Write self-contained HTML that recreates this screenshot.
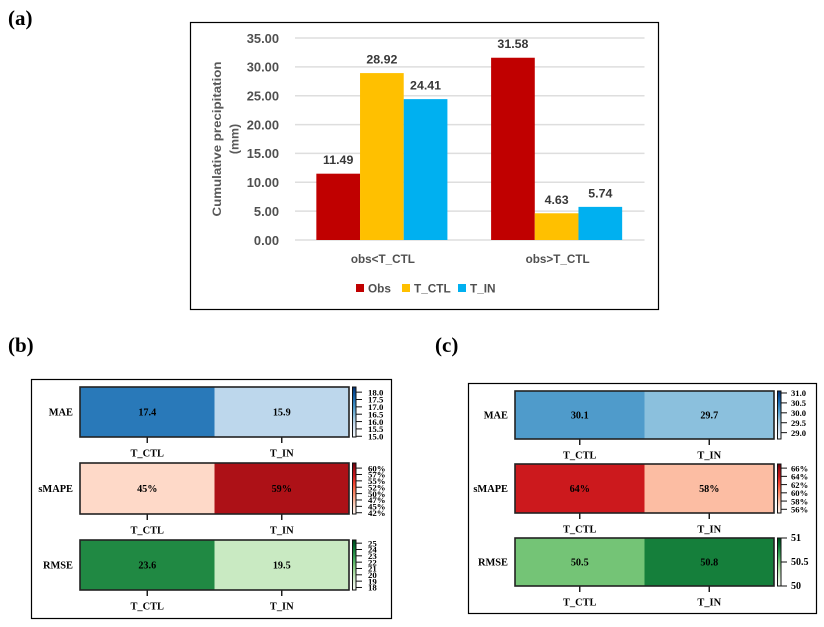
<!DOCTYPE html>
<html lang="en">
<head>
<meta charset="utf-8">
<title>Cumulative precipitation and error metrics</title>
<style>
html,body{margin:0;padding:0;background:#fff}
svg{display:block;filter:blur(0.3px)}
.bar-text{font-family:"Liberation Sans",sans-serif;font-weight:bold}
.heat-text{font-family:"Liberation Serif",serif;font-weight:bold;fill:#000}
</style>
</head>
<body>
<svg id="fig" xmlns="http://www.w3.org/2000/svg" width="824" height="627" viewBox="0 0 824 627">
  <defs id="defs"></defs>
  <text x="8" y="25" font-family="Liberation Serif" font-weight="bold" font-size="21">(a)</text>
  <text x="8" y="352" font-family="Liberation Serif" font-weight="bold" font-size="21">(b)</text>
  <text x="435" y="352" font-family="Liberation Serif" font-weight="bold" font-size="21">(c)</text>
  <rect x="190.5" y="22.5" width="468" height="287" fill="#fff" stroke="#000" stroke-width="1.2"/>
  <rect x="31.5" y="379.5" width="360" height="239" fill="#fff" stroke="#000" stroke-width="1.2"/>
  <rect x="468.5" y="383.5" width="348" height="230" fill="#fff" stroke="#000" stroke-width="1.2"/>
  <g id="bar-chart"></g>
  <g id="panel-b"></g>
  <g id="panel-c"></g>
</svg>
<script>
// ---- Bar chart data ----
const barCategories = ['obs<T_CTL', 'obs>T_CTL'];
const seriesNames = ['Obs', 'T_CTL', 'T_IN'];
const obsValues = [11.49, 31.58];
const ctlValues = [28.92, 4.63];
const inValues = [24.41, 5.74];
const barYTicks = [0, 5, 10, 15, 20, 25, 30, 35];

// ---- Heatmap data ----
const heatColumns = ['T_CTL', 'T_IN'];
const metricNames = ['MAE', 'sMAPE', 'RMSE'];

const bMaeValues = [17.4, 15.9];
const bSmapeValues = [45, 59];
const bRmseValues = [23.6, 19.5];
const bMaeDomain = [14.95, 18.35];
const bSmapeDomain = [42, 62];
const bRmseDomain = [17.6, 25.5];
const bMaeTicks = [15, 15.5, 16, 16.5, 17, 17.5, 18];
const bMaeTickLabels = ['15.0', '15.5', '16.0', '16.5', '17.0', '17.5', '18.0'];
const bSmapeTicks = [42.5, 45, 47.5, 50, 52.5, 55, 57.5, 60];
const bSmapeTickLabels = ['42%', '45%', '47%', '50%', '52%', '55%', '57%', '60%'];
const bRmseTicks = [18, 19, 20, 21, 22, 23, 24, 25];
const bRmseTickLabels = ['18', '19', '20', '21', '22', '23', '24', '25'];

const cMaeValues = [30.1, 29.7];
const cSmapeValues = [64, 58];
const cRmseValues = [50.5, 50.8];
const cMaeDomain = [28.68, 31.1];
const cSmapeDomain = [55.1, 67];
const cRmseDomain = [50, 51];
const cMaeTicks = [29, 29.5, 30, 30.5, 31];
const cMaeTickLabels = ['29.0', '29.5', '30.0', '30.5', '31.0'];
const cSmapeTicks = [56, 58, 60, 62, 64, 66];
const cSmapeTickLabels = ['56%', '58%', '60%', '62%', '64%', '66%'];
const cRmseTicks = [50, 50.5, 51];
const cRmseTickLabels = ['50', '50.5', '51'];

// ---- Colormaps ----
const blues = ['#f7fbff','#deebf7','#c6dbef','#9ecae1','#6baed6','#4292c6','#2171b5','#08519c','#08306b'];
const reds = ['#fff5f0','#fee0d2','#fcbba1','#fc9272','#fb6a4a','#ef3b2c','#cb181d','#a50f15','#67000d'];
const greens = ['#f7fcf5','#e5f5e0','#c7e9c0','#a1d99b','#74c476','#41ab5d','#238b45','#006d2c','#00441b'];

const NS = 'http://www.w3.org/2000/svg';
function mk(tag, parent, props, txt) {
  const el = document.createElementNS(NS, tag);
  for (const k in props) el.setAttribute(k, props[k]);
  if (txt !== undefined) el.textContent = txt;
  parent.appendChild(el);
  return el;
}
function slug(s) { return String(s).toLowerCase().replace(/[^a-z0-9]+/g, '-').replace(/^-|-$/g, ''); }
function hexRgb(h) { return [1, 3, 5].map(i => parseInt(h.substr(i, 2), 16)); }
function cmap(stops, t) {
  t = Math.max(0, Math.min(1, t));
  const p = t * (stops.length - 1), i = Math.min(stops.length - 2, Math.floor(p)), f = p - i;
  const a = hexRgb(stops[i]), b = hexRgb(stops[i + 1]);
  return 'rgb(' + a.map((v, k) => Math.round(v + (b[k] - v) * f)).join(',') + ')';
}

// ---- Bar chart ----
(function () {
  const root = document.getElementById('bar-chart');
  const seriesValues = [obsValues, ctlValues, inValues];
  const seriesColors = ['#c00000', '#ffc000', '#00b0f0'];
  const left = 295, right = 644.5, top = 38, bottom = 240;
  const yMax = barYTicks[barYTicks.length - 1];
  const yScale = v => bottom - (v / yMax) * (bottom - top);
  const catW = (right - left) / barCategories.length;
  const barW = catW * 0.25;

  barYTicks.forEach(t => {
    const line = mk('line', root, { x1: left, x2: right, y1: yScale(t), y2: yScale(t), stroke: '#dedede', 'stroke-width': 1.5 });
    
    
    const lab = mk('text', root, { x: 279, y: yScale(t) + 4.8, 'text-anchor': 'end', 'font-size': 12.9, fill: '#505050', class: 'bar-text' }, t.toFixed(2));
    
    
  });

  barCategories.forEach((cat, c) => {
    const x0 = left + c * catW + (catW - 3 * barW) / 2 - 0.5;
    seriesValues.forEach((vals, s) => {
      const v = vals[c];
      const bar = mk('rect', root, { x: x0 + s * barW, y: yScale(v), width: barW, height: bottom - yScale(v), fill: seriesColors[s] });
      
      
      const lab = mk('text', root, { x: x0 + s * barW + barW / 2, y: yScale(v) - 9.5, 'text-anchor': 'middle', 'font-size': 12.4, fill: '#383838', class: 'bar-text' }, v.toFixed(2));
      
      
    });
    const cl = mk('text', root, { x: left + c * catW + catW / 2 + 0.5, y: 263, 'text-anchor': 'middle', 'font-size': 11.7, fill: '#505050', class: 'bar-text' }, cat);
    
    
  });

  const t1 = mk('text', root, { transform: 'translate(221,139) rotate(-90)', 'text-anchor': 'middle', 'font-size': 12.4, fill: '#595959', class: 'bar-text', textLength: 155, lengthAdjust: 'spacingAndGlyphs' }, 'Cumulative precipitation');
  
  
  const t2 = mk('text', root, { transform: 'translate(238.5,139) rotate(-90)', 'text-anchor': 'middle', 'font-size': 12.4, fill: '#595959', class: 'bar-text' }, '(mm)');
  
  

  const legendSquareX = [356, 402, 458];
  seriesNames.forEach((name, i) => {
    const sq = mk('rect', root, { x: legendSquareX[i], y: 284, width: 8, height: 8, fill: seriesColors[i] });
    
    
    const tx = mk('text', root, { x: legendSquareX[i] + 12, y: 292.5, 'font-size': 11.8, fill: '#505050', class: 'bar-text' }, name);
    
    
  });
})();

// ---- Heatmaps ----
let gradId = 0;
function heatRow(root, prefix, o) {
  const w = o.x1 - o.x0, h = o.y1 - o.y0, n = o.values.length, cw = w / n;
  const norm = v => (v - o.domain[0]) / (o.domain[1] - o.domain[0]);
  const barY = v => o.y1 - norm(v) * h;

  o.values.forEach((v, i) => {
    const cell = mk('rect', root, { x: o.x0 + i * cw, y: o.y0, width: cw, height: h, fill: cmap(o.colors, norm(v)) });
    
    
    const val = mk('text', root, { x: o.x0 + (i + 0.5) * cw, y: (o.y0 + o.y1) / 2 + 3.6, 'text-anchor': 'middle', 'font-size': 10.2, class: 'heat-text' }, o.fmt(v));
    
    
    const tick = mk('line', root, { x1: o.x0 + (i + 0.5) * cw, x2: o.x0 + (i + 0.5) * cw, y1: o.y1, y2: o.y1 + 6, stroke: '#111', 'stroke-width': 1.4 });
    
    
    const xl = mk('text', root, { x: o.x0 + (i + 0.5) * cw, y: o.y1 + 19.5, 'text-anchor': 'middle', 'font-size': 10.4, class: 'heat-text' }, heatColumns[i]);
    
    
  });

  const frame = mk('rect', root, { x: o.x0, y: o.y0, width: w, height: h, fill: 'none', stroke: '#222', 'stroke-width': 1.6 });
  
  

  const yl = mk('text', root, { x: o.x0 - 7, y: (o.y0 + o.y1) / 2 + 3.6, 'text-anchor': 'end', 'font-size': 10.4, class: 'heat-text' }, o.name);
  
  

  const id = 'grad' + (gradId++);
  const grad = mk('linearGradient', document.getElementById('defs'), { id: id, x1: 0, x2: 0, y1: 1, y2: 0 });
  o.colors.forEach((c, i) => mk('stop', grad, { offset: i / (o.colors.length - 1), 'stop-color': c }));
  const cbX = o.x1 + 3.5, cbW = 3.5;
  const cb = mk('rect', root, { x: cbX, y: o.y0, width: cbW, height: h, fill: 'url(#' + id + ')', stroke: '#111', 'stroke-width': 1 });
  
  
  o.ticks.forEach((t, i) => {
    const tk = mk('line', root, { x1: cbX + cbW, x2: cbX + cbW + 6, y1: barY(t), y2: barY(t), stroke: '#111', 'stroke-width': 1 });
    
    
    const lb = mk('text', root, { x: o.tickLabelX, y: barY(t) + 3.2, 'font-size': o.tickFont, class: 'heat-text' }, o.tickLabels[i]);
    
    
  });
}
const fmt1 = v => v.toFixed(1);
const fmtPct = v => Math.round(v) + '%';

const panelB = document.getElementById('panel-b');
heatRow(panelB, 'b', { name: metricNames[0], values: bMaeValues, domain: bMaeDomain, colors: blues, ticks: bMaeTicks, tickLabels: bMaeTickLabels, fmt: fmt1, x0: 80, x1: 349, y0: 387, y1: 437, tickLabelX: 368, tickFont: 8.8 });
heatRow(panelB, 'b', { name: metricNames[1], values: bSmapeValues, domain: bSmapeDomain, colors: reds, ticks: bSmapeTicks, tickLabels: bSmapeTickLabels, fmt: fmtPct, x0: 80, x1: 349, y0: 463, y1: 514, tickLabelX: 368, tickFont: 8.8 });
heatRow(panelB, 'b', { name: metricNames[2], values: bRmseValues, domain: bRmseDomain, colors: greens, ticks: bRmseTicks, tickLabels: bRmseTickLabels, fmt: fmt1, x0: 80, x1: 349, y0: 540, y1: 590, tickLabelX: 368, tickFont: 8.8 });

const panelC = document.getElementById('panel-c');
heatRow(panelC, 'c', { name: metricNames[0], values: cMaeValues, domain: cMaeDomain, colors: blues, ticks: cMaeTicks, tickLabels: cMaeTickLabels, fmt: fmt1, x0: 515, x1: 774, y0: 391, y1: 439, tickLabelX: 791, tickFont: 8.6 });
heatRow(panelC, 'c', { name: metricNames[1], values: cSmapeValues, domain: cSmapeDomain, colors: reds, ticks: cSmapeTicks, tickLabels: cSmapeTickLabels, fmt: fmtPct, x0: 515, x1: 774, y0: 464, y1: 513, tickLabelX: 791, tickFont: 8.6 });
heatRow(panelC, 'c', { name: metricNames[2], values: cRmseValues, domain: cRmseDomain, colors: greens, ticks: cRmseTicks, tickLabels: cRmseTickLabels, fmt: fmt1, x0: 515, x1: 774, y0: 538, y1: 586, tickLabelX: 791, tickFont: 10 });
</script>
</body>
</html>
